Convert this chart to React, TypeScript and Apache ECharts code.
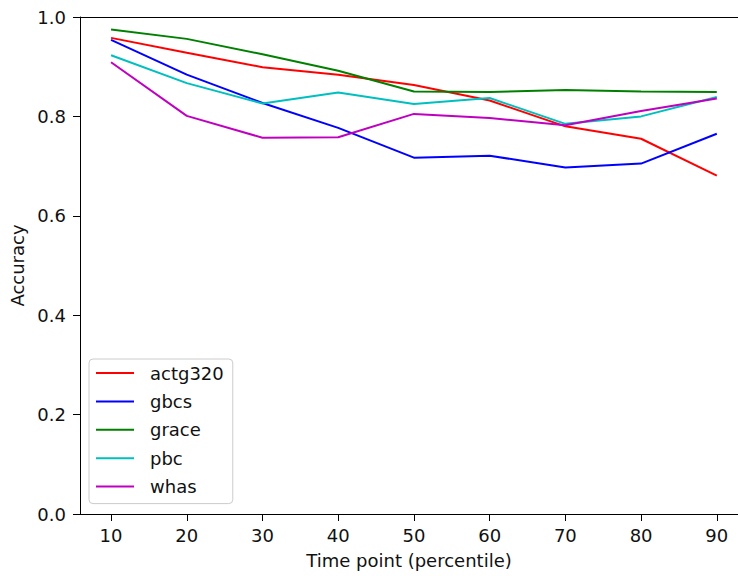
import React, { useEffect, useRef } from "react";
import * as echarts from "echarts";

const timePoints = [10, 20, 30, 40, 50, 60, 70, 80, 90];
const actg320 = [0.958, 0.928, 0.899, 0.884, 0.863, 0.832, 0.780, 0.755, 0.681];
const gbcs = [0.954, 0.884, 0.827, 0.777, 0.717, 0.721, 0.697, 0.705, 0.765];
const grace = [0.975, 0.956, 0.925, 0.892, 0.850, 0.849, 0.853, 0.850, 0.849];
const pbc = [0.923, 0.867, 0.826, 0.848, 0.825, 0.837, 0.785, 0.800, 0.839];
const whas = [0.909, 0.801, 0.757, 0.758, 0.805, 0.797, 0.782, 0.811, 0.836];
const seriesNames = ["actg320", "gbcs", "grace", "pbc", "whas"];
const seriesColors = ["#ff0000", "#0000ff", "#008000", "#00bfbf", "#bf00bf"];
const xTicks = [10, 20, 30, 40, 50, 60, 70, 80, 90];

const FONT = "DejaVu Sans";
const FS = 18;

export default function App() {
  const ref = useRef<HTMLDivElement>(null);
  useEffect(() => {
    if (!ref.current) return;
    const chart = echarts.init(ref.current, undefined, { renderer: "svg" });
    const allData = [actg320, gbcs, grace, pbc, whas];
    chart.setOption({
      animation: false,
      backgroundColor: "#ffffff",
      textStyle: { fontFamily: FONT },
      grid: {
        left: 80,
        top: 17,
        right: 0,
        height: 497,
        show: false,
      },
      xAxis: [
        {
          type: "value",
          min: 5.9,
          max: 92.8,
          name: "Time point (percentile)",
          nameLocation: "middle",
          nameGap: 37,
          nameTextStyle: { fontSize: FS, color: "#111", fontFamily: FONT },
          axisLine: { show: true, lineStyle: { color: "#000", width: 1 } },
          axisTick: { show: true, length: 7, customValues: xTicks, lineStyle: { color: "#000" } },
          axisLabel: { customValues: xTicks, fontSize: FS, color: "#111", margin: 12, fontFamily: FONT },
          splitLine: { show: false },
        },
        {
          type: "value",
          position: "top",
          min: 5.9,
          max: 92.8,
          axisLine: { show: true, onZero: false, lineStyle: { color: "#000", width: 1 } },
          axisTick: { show: false },
          axisLabel: { show: false },
          splitLine: { show: false },
        },
      ],
      yAxis: {
        type: "value",
        min: 0,
        max: 1,
        interval: 0.2,
        name: "Accuracy",
        nameLocation: "middle",
        nameGap: 51,
        nameRotate: 90,
        nameTextStyle: { fontSize: FS, color: "#111", fontFamily: FONT },
        axisLine: { show: true, lineStyle: { color: "#000", width: 1 } },
        axisTick: { show: true, length: 7, lineStyle: { color: "#000" } },
        axisLabel: {
          fontSize: FS,
          color: "#111",
          margin: 14,
          fontFamily: FONT,
          formatter: (v: number) => v.toFixed(1),
        },
        splitLine: { show: false },
      },
      legend: {
        orient: "vertical",
        left: 89,
        top: 359,
        data: seriesNames,
        icon: "path://M0 0H38V2H0Z M48.99 0H49V2H48.99Z",
        itemWidth: 49,
        itemHeight: 2,
        itemGap: 10.4,
        padding: [5, 9, 8, 7],
        backgroundColor: "rgba(255,255,255,0.8)",
        borderColor: "#cccccc",
        borderWidth: 1,
        borderRadius: 4,
        textStyle: {
          fontSize: FS,
          color: "#111",
          fontFamily: FONT,
          lineHeight: 18,
        },
      },
      series: seriesNames.map((name, i) => ({
        name,
        type: "line",
        data: timePoints.map((t, j) => [t, allData[i][j]]),
        showSymbol: false,
        symbol: "none",
        lineStyle: { color: seriesColors[i], width: 2 },
        itemStyle: { color: seriesColors[i] },
      })),
    });
    return () => chart.dispose();
  }, []);
  return (
    <div
      ref={ref}
      style={{ position: "fixed", left: 0, top: 0, width: 738, height: 576 }}
    />
  );
}
